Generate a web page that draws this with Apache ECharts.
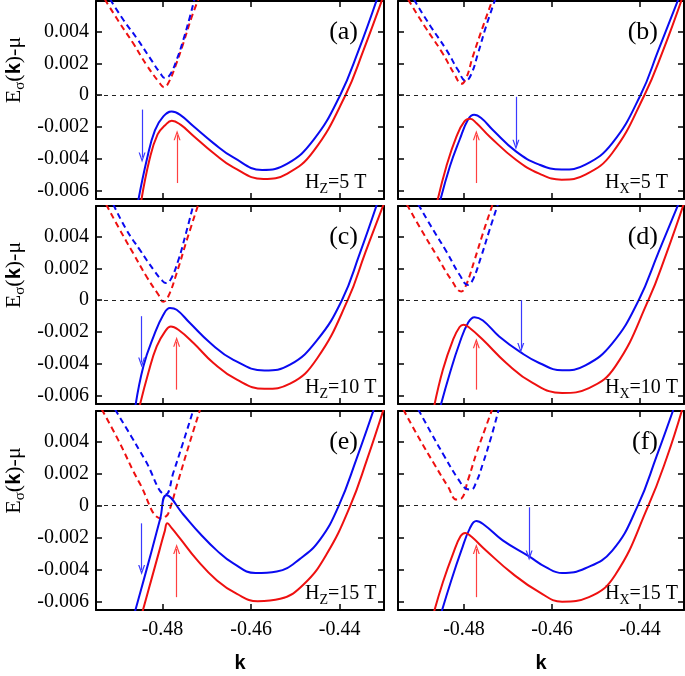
<!DOCTYPE html>
<html><head><meta charset="utf-8">
<style>html,body{margin:0;padding:0;background:#fff}#c{width:685px;height:676px}</style>
<script src="https://cdn.jsdelivr.net/npm/echarts@6.0.0/dist/echarts.min.js"></script>
</head><body><div id="c"></div>
<script>
// ---------- data: [k, E] ----------
const kTicks = [-0.48, -0.46, -0.44];
const eTicks = [-0.006, -0.004, -0.002, 0, 0.002, 0.004];
const panelLetters = ['(a)', '(b)', '(c)', '(d)', '(e)', '(f)'];
const fieldDirs = ['Z', 'X', 'Z', 'X', 'Z', 'X'];
const fieldValues = ['5 T', '5 T', '10 T', '10 T', '15 T', '15 T'];

// (a) Hz = 5 T
const aBlueSolid = [[-0.4856,-0.0068],[-0.4835,-0.0040],[-0.4817,-0.0022],[-0.4798,-0.00133],[-0.4779,-0.00102],[-0.4760,-0.00123],[-0.4730,-0.00195],[-0.4685,-0.0030],[-0.4640,-0.0039],[-0.4575,-0.00468],[-0.4519,-0.0043],[-0.4459,-0.0028],[-0.4399,0.0],[-0.4357,0.00284],[-0.4316,0.0060]];
const aRedSolid = [[-0.4849,-0.0068],[-0.4829,-0.0040],[-0.4811,-0.00245],[-0.4794,-0.00188],[-0.4779,-0.0016],[-0.4760,-0.00183],[-0.4730,-0.00255],[-0.4685,-0.00362],[-0.4640,-0.00452],[-0.4572,-0.00525],[-0.4519,-0.00492],[-0.4459,-0.0035],[-0.4387,0.0],[-0.4346,0.00284],[-0.4304,0.0060]];
const aBlueDash = [[-0.4918,0.0060],[-0.4888,0.00471],[-0.4858,0.00357],[-0.4828,0.00232],[-0.4805,0.00138],[-0.4794,0.00107],[-0.4783,0.00128],[-0.4768,0.00221],[-0.4753,0.00346],[-0.4738,0.00492],[-0.4728,0.0060]];
const aRedDash = [[-0.4930,0.0060],[-0.4896,0.0045],[-0.4866,0.00325],[-0.4836,0.0019],[-0.4809,0.00086],[-0.4796,0.0005],[-0.4787,0.00075],[-0.4771,0.0018],[-0.4753,0.00325],[-0.4734,0.0049],[-0.4719,0.0060]];

// (b) Hx = 5 T
const bBlueSolid = [[-0.4856,-0.0068],[-0.4832,-0.00445],[-0.4810,-0.00279],[-0.4791,-0.00154],[-0.4777,-0.00123],[-0.4761,-0.00143],[-0.4735,-0.00216],[-0.4682,-0.00352],[-0.4629,-0.00435],[-0.4578,-0.00466],[-0.4524,-0.00435],[-0.4463,-0.0030],[-0.4399,0.0],[-0.4358,0.00284],[-0.4313,0.0060]];
const bRedSolid = [[-0.4862,-0.0068],[-0.4840,-0.00445],[-0.4817,-0.00258],[-0.4799,-0.00164],[-0.4786,-0.00148],[-0.4772,-0.00174],[-0.4742,-0.00258],[-0.4682,-0.00404],[-0.4629,-0.00491],[-0.4578,-0.00529],[-0.4524,-0.00498],[-0.4463,-0.00362],[-0.4390,0.0],[-0.4347,0.00284],[-0.4305,0.0060]];
const bBlueDash = [[-0.4914,0.0060],[-0.4878,0.0044],[-0.4840,0.00284],[-0.4814,0.00159],[-0.4796,0.0009],[-0.4784,0.00128],[-0.4768,0.00263],[-0.4750,0.0043],[-0.4729,0.0060]];
const bRedDash = [[-0.4927,0.0060],[-0.4889,0.0043],[-0.4851,0.00273],[-0.4821,0.00128],[-0.4806,0.00071],[-0.4795,0.00107],[-0.4780,0.00242],[-0.4757,0.0043],[-0.4735,0.0060]];

// (c) Hz = 10 T
const cBlueSolid = [[-0.4862,-0.0068],[-0.4843,-0.00414],[-0.4820,-0.00227],[-0.4798,-0.00091],[-0.4783,-0.00049],[-0.4768,-0.0006],[-0.4738,-0.00143],[-0.4692,-0.00268],[-0.4640,-0.00373],[-0.4570,-0.0044],[-0.4512,-0.00404],[-0.4451,-0.0025],[-0.4395,0.0],[-0.4355,0.0029],[-0.4316,0.0060]];
const cRedSolid = [[-0.4853,-0.0068],[-0.4832,-0.00456],[-0.4813,-0.00289],[-0.4794,-0.00195],[-0.4781,-0.00164],[-0.4764,-0.00185],[-0.4730,-0.00268],[-0.4685,-0.00393],[-0.4632,-0.00498],[-0.4570,-0.00555],[-0.4512,-0.00523],[-0.4451,-0.00365],[-0.4382,0.0],[-0.4342,0.0030],[-0.4301,0.0060]];
const cBlueDash = [[-0.4911,0.0060],[-0.4881,0.0044],[-0.4851,0.00315],[-0.4820,0.0019],[-0.4802,0.00127],[-0.4792,0.00107],[-0.4781,0.00132],[-0.4764,0.00252],[-0.4749,0.00398],[-0.4730,0.0060]];
const cRedDash = [[-0.4927,0.0060],[-0.4896,0.0044],[-0.4866,0.00294],[-0.4836,0.00148],[-0.4809,0.00034],[-0.4798,-0.0001],[-0.4787,0.00023],[-0.4768,0.00169],[-0.4745,0.00377],[-0.4719,0.0060]];

// (d) Hx = 10 T
const dBlueSolid = [[-0.4855,-0.0068],[-0.4832,-0.00456],[-0.4810,-0.00268],[-0.4791,-0.00143],[-0.4776,-0.00106],[-0.4757,-0.00127],[-0.4720,-0.00227],[-0.4671,-0.00327],[-0.4629,-0.00393],[-0.4577,-0.00439],[-0.4524,-0.00408],[-0.4463,-0.0027],[-0.4403,0.0],[-0.4358,0.0030],[-0.4313,0.0060]];
const dRedSolid = [[-0.4869,-0.0068],[-0.4848,-0.00435],[-0.4825,-0.00248],[-0.4810,-0.00168],[-0.4801,-0.00154],[-0.4787,-0.00174],[-0.4757,-0.00248],[-0.4704,-0.00393],[-0.4644,-0.00518],[-0.4577,-0.00581],[-0.4516,-0.0055],[-0.4456,-0.00414],[-0.4381,0.0],[-0.4339,0.0030],[-0.4301,0.0060]];
const dBlueDash = [[-0.4904,0.0060],[-0.4870,0.0044],[-0.4840,0.00305],[-0.4810,0.00159],[-0.4791,0.00096],[-0.4780,0.00128],[-0.4761,0.00273],[-0.4742,0.0044],[-0.4723,0.0060]];
const dRedDash = [[-0.4930,0.0060],[-0.4897,0.0044],[-0.4863,0.00284],[-0.4829,0.00128],[-0.4806,0.00055],[-0.4795,0.00096],[-0.4776,0.00252],[-0.4757,0.00419],[-0.4735,0.0060]];

// (e) Hz = 15 T
const eBlueSolid = [[-0.4864,-0.0068],[-0.4843,-0.0047],[-0.4824,-0.00277],[-0.4805,-0.0008],[-0.4791,0.00065],[-0.4753,-0.00055],[-0.4715,-0.00175],[-0.4677,-0.0028],[-0.4640,-0.0036],[-0.4590,-0.0042],[-0.4542,-0.0041],[-0.4489,-0.0033],[-0.4444,-0.0021],[-0.4402,0.0],[-0.4361,0.0030],[-0.4323,0.0060]];
const eRedSolid = [[-0.4847,-0.0068],[-0.4826,-0.0047],[-0.4807,-0.0028],[-0.4795,-0.0016],[-0.4789,-0.0011],[-0.4779,-0.0014],[-0.4760,-0.00205],[-0.4723,-0.00335],[-0.4677,-0.00466],[-0.4632,-0.0055],[-0.4585,-0.00595],[-0.4534,-0.0058],[-0.4481,-0.0049],[-0.4429,-0.0030],[-0.4376,0.0],[-0.4338,0.0029],[-0.4301,0.0060]];
const eBlueDash = [[-0.4907,0.0060],[-0.4870,0.0043],[-0.4839,0.00284],[-0.4793,0.0007],[-0.4775,0.0021],[-0.4755,0.0038],[-0.4730,0.0060]];
const eRedDash = [[-0.4937,0.0060],[-0.4900,0.0041],[-0.4851,0.00138],[-0.4802,-0.0008],[-0.4794,-0.0007],[-0.4787,-0.0005],[-0.4765,0.0015],[-0.4740,0.0038],[-0.4715,0.0060]];

// (f) Hx = 15 T
const fBlueSolid = [[-0.4853,-0.0068],[-0.4829,-0.00466],[-0.4806,-0.00279],[-0.4787,-0.00143],[-0.4772,-0.00095],[-0.4753,-0.00122],[-0.4712,-0.00216],[-0.4652,-0.00316],[-0.4614,-0.00383],[-0.4577,-0.0042],[-0.4524,-0.0039],[-0.4463,-0.0028],[-0.4405,0.0],[-0.4362,0.0031],[-0.4324,0.0060]];
const fRedSolid = [[-0.4870,-0.0068],[-0.4848,-0.00477],[-0.4825,-0.0030],[-0.4808,-0.00191],[-0.4797,-0.0017],[-0.4784,-0.00191],[-0.4750,-0.00279],[-0.4689,-0.00425],[-0.4629,-0.00539],[-0.4577,-0.00598],[-0.4516,-0.0057],[-0.4456,-0.0043],[-0.4381,0.0],[-0.4339,0.0030],[-0.4304,0.0060]];
const fBlueDash = [[-0.4904,0.0060],[-0.4874,0.0045],[-0.4844,0.00305],[-0.4814,0.00169],[-0.4795,0.00106],[-0.4784,0.0010],[-0.4772,0.00148],[-0.4757,0.00263],[-0.4738,0.0043],[-0.4721,0.0060]];
const fRedDash = [[-0.4938,0.0060],[-0.4904,0.0043],[-0.4866,0.00252],[-0.4836,0.00117],[-0.4817,0.00038],[-0.4806,0.00044],[-0.4791,0.00159],[-0.4772,0.00325],[-0.4753,0.00471],[-0.4736,0.0060]];

// spin arrows: [k, tail E, tip E]
const blueArrows = [[-0.4846,-0.0009,-0.0039],[-0.4682,-0.0001,-0.0031],[-0.4847,-0.0010,-0.0039],[-0.4671,0.0,-0.0030],[-0.4847,-0.0011,-0.0040],[-0.4652,-0.0001,-0.0031]];
const redArrows = [[-0.4767,-0.0055,-0.0025],[-0.4772,-0.0055,-0.0025],[-0.4768,-0.0056,-0.0026],[-0.4772,-0.0056,-0.0027],[-0.4768,-0.0057,-0.0027],[-0.4772,-0.0057,-0.0027]];

const blueSolid = [aBlueSolid, bBlueSolid, cBlueSolid, dBlueSolid, eBlueSolid, fBlueSolid];
const redSolid = [aRedSolid, bRedSolid, cRedSolid, dRedSolid, eRedSolid, fRedSolid];
const blueDash = [aBlueDash, bBlueDash, cBlueDash, dBlueDash, eBlueDash, fBlueDash];
const redDash = [aRedDash, bRedDash, cRedDash, dRedDash, eRedDash, fRedDash];

// ---------- layout / style ----------
const K_MIN = -0.495, K_MAX = -0.43, E_MIN = -0.0065, E_MAX = 0.0059;
const SERIF = '"Liberation Serif", "Times New Roman", serif';
const BLUE = '#0a0af0', RED = '#ee1010';
const CHEVRON = 'path://M0,10 L5,0 L10,10 L8.2,10 L5,3.6 L1.8,10 Z';
const cols = [{left: 96, width: 288}, {left: 398, width: 286}];
const rows = [{top: 1, height: 198}, {top: 206, height: 198}, {top: 411, height: 199}];

const grid = [], xAxis = [], yAxis = [], series = [], graphic = [];
for (let i = 0; i < 6; i++) {
  const r = Math.floor(i / 2), c = i % 2;
  const g = {left: cols[c].left, width: cols[c].width, top: rows[r].top, height: rows[r].height};
  grid.push(Object.assign({containLabel: false}, g));
  const axLine = {show: true, onZero: false, lineStyle: {color: '#000', width: 2}};
  const mkX = (pos, lab) => ({
    type: 'value', gridIndex: i, position: pos, min: K_MIN, max: K_MAX,
    axisLine: axLine,
    axisTick: {show: true, inside: true, length: 6, customValues: kTicks, lineStyle: {color: '#000', width: 1.5}},
    axisLabel: {show: lab, customValues: kTicks, formatter: v => v.toFixed(2), fontFamily: SERIF, fontSize: 20, color: '#000', margin: 10},
    splitLine: {show: false}
  });
  const mkY = (pos, lab) => ({
    type: 'value', gridIndex: i, position: pos, min: E_MIN, max: E_MAX,
    axisLine: axLine,
    axisTick: {show: true, inside: true, length: 6, customValues: eTicks, lineStyle: {color: '#000', width: 1.5}},
    axisLabel: {show: lab, customValues: eTicks, formatter: v => (Math.abs(v) < 1e-9 ? '0' : v.toFixed(3)), fontFamily: SERIF, fontSize: 20, color: '#000', margin: 7},
    splitLine: {show: false}
  });
  xAxis.push(mkX('bottom', r === 2), mkX('top', false));
  yAxis.push(mkY('left', c === 0), mkY('right', false));
  const base = {type: 'line', xAxisIndex: 2 * i, yAxisIndex: 2 * i, symbol: 'none', showSymbol: false,
    smooth: 0.45, silent: true, animation: false};
  const mkArrow = (a, color) => [
    {coord: [a[0], a[1]], symbol: 'none', lineStyle: {color: color, width: 1.2, type: 'solid'}},
    {coord: [a[0], a[2]], symbol: CHEVRON, symbolSize: [7, 10]}
  ];
  series.push(Object.assign({}, base, {
    data: redDash[i], lineStyle: {color: RED, width: 2, type: [6, 4]},
    markLine: {silent: true, animation: false, symbol: ['none', 'none'], label: {show: false},
      lineStyle: {color: '#222', width: 1, type: [4, 4]}, data: [{yAxis: 0}]}
  }));
  series.push(Object.assign({}, base, {data: blueDash[i], lineStyle: {color: BLUE, width: 2, type: [6, 4]}}));
  series.push(Object.assign({}, base, {
    data: blueSolid[i], lineStyle: {color: BLUE, width: 2},
    markLine: {silent: true, animation: false, symbol: ['none', CHEVRON], label: {show: false},
      data: [mkArrow(blueArrows[i], '#3a3aff'), mkArrow(redArrows[i], '#ff4040')]}
  }));
  series.push(Object.assign({}, base, {data: redSolid[i], lineStyle: {color: RED, width: 2}}));

  graphic.push({type: 'text', x: g.left + g.width - 26, y: g.top + 31, silent: true,
    style: {text: panelLetters[i], font: '26px ' + SERIF, fill: '#000', align: 'right', verticalAlign: 'middle', textAlign: 'right', textVerticalAlign: 'middle'}});
  graphic.push({type: 'text', x: g.left + (c === 0 ? 209 : 207), y: g.top + g.height - 3, silent: true,
    style: {text: '{h|H}{s|' + fieldDirs[i] + '}{h|=' + fieldValues[i] + '}',
      align: 'left', verticalAlign: 'bottom', textAlign: 'left', textVerticalAlign: 'bottom',
      rich: {h: {fontFamily: SERIF, fontSize: 20, color: '#000', lineHeight: 26, verticalAlign: 'middle'},
             s: {fontFamily: SERIF, fontSize: 14, color: '#000', lineHeight: 14, verticalAlign: 'bottom'}}}});
  if (c === 0) {
    graphic.push({type: 'text', x: 14, y: g.top + g.height / 2 - 30, rotation: Math.PI / 2, silent: true,
      style: {text: '{e|E}{s|σ}{e|(}{k|k}{e|)-μ}', align: 'center', verticalAlign: 'middle', textAlign: 'center', textVerticalAlign: 'middle',
        rich: {e: {fontFamily: SERIF, fontSize: 22, color: '#000', lineHeight: 28, verticalAlign: 'middle'},
               s: {fontFamily: SERIF, fontSize: 15, color: '#000', lineHeight: 15, verticalAlign: 'bottom'},
               k: {fontFamily: '"Liberation Sans", Arial, sans-serif', fontWeight: 'bold', fontSize: 20, color: '#000', lineHeight: 28, verticalAlign: 'middle'}}}});
  }
  if (r === 2) {
    graphic.push({type: 'text', x: g.left + g.width / 2, y: 663, silent: true,
      style: {text: 'k', font: 'bold 20px "Liberation Sans", Arial, sans-serif', fill: '#000', align: 'center', verticalAlign: 'middle', textAlign: 'center', textVerticalAlign: 'middle'}});
  }
}

const chart = echarts.init(document.getElementById('c'), null, {renderer: 'canvas'});
chart.setOption({backgroundColor: '#fff', animation: false, grid, xAxis, yAxis, series, graphic});
</script></body></html>
